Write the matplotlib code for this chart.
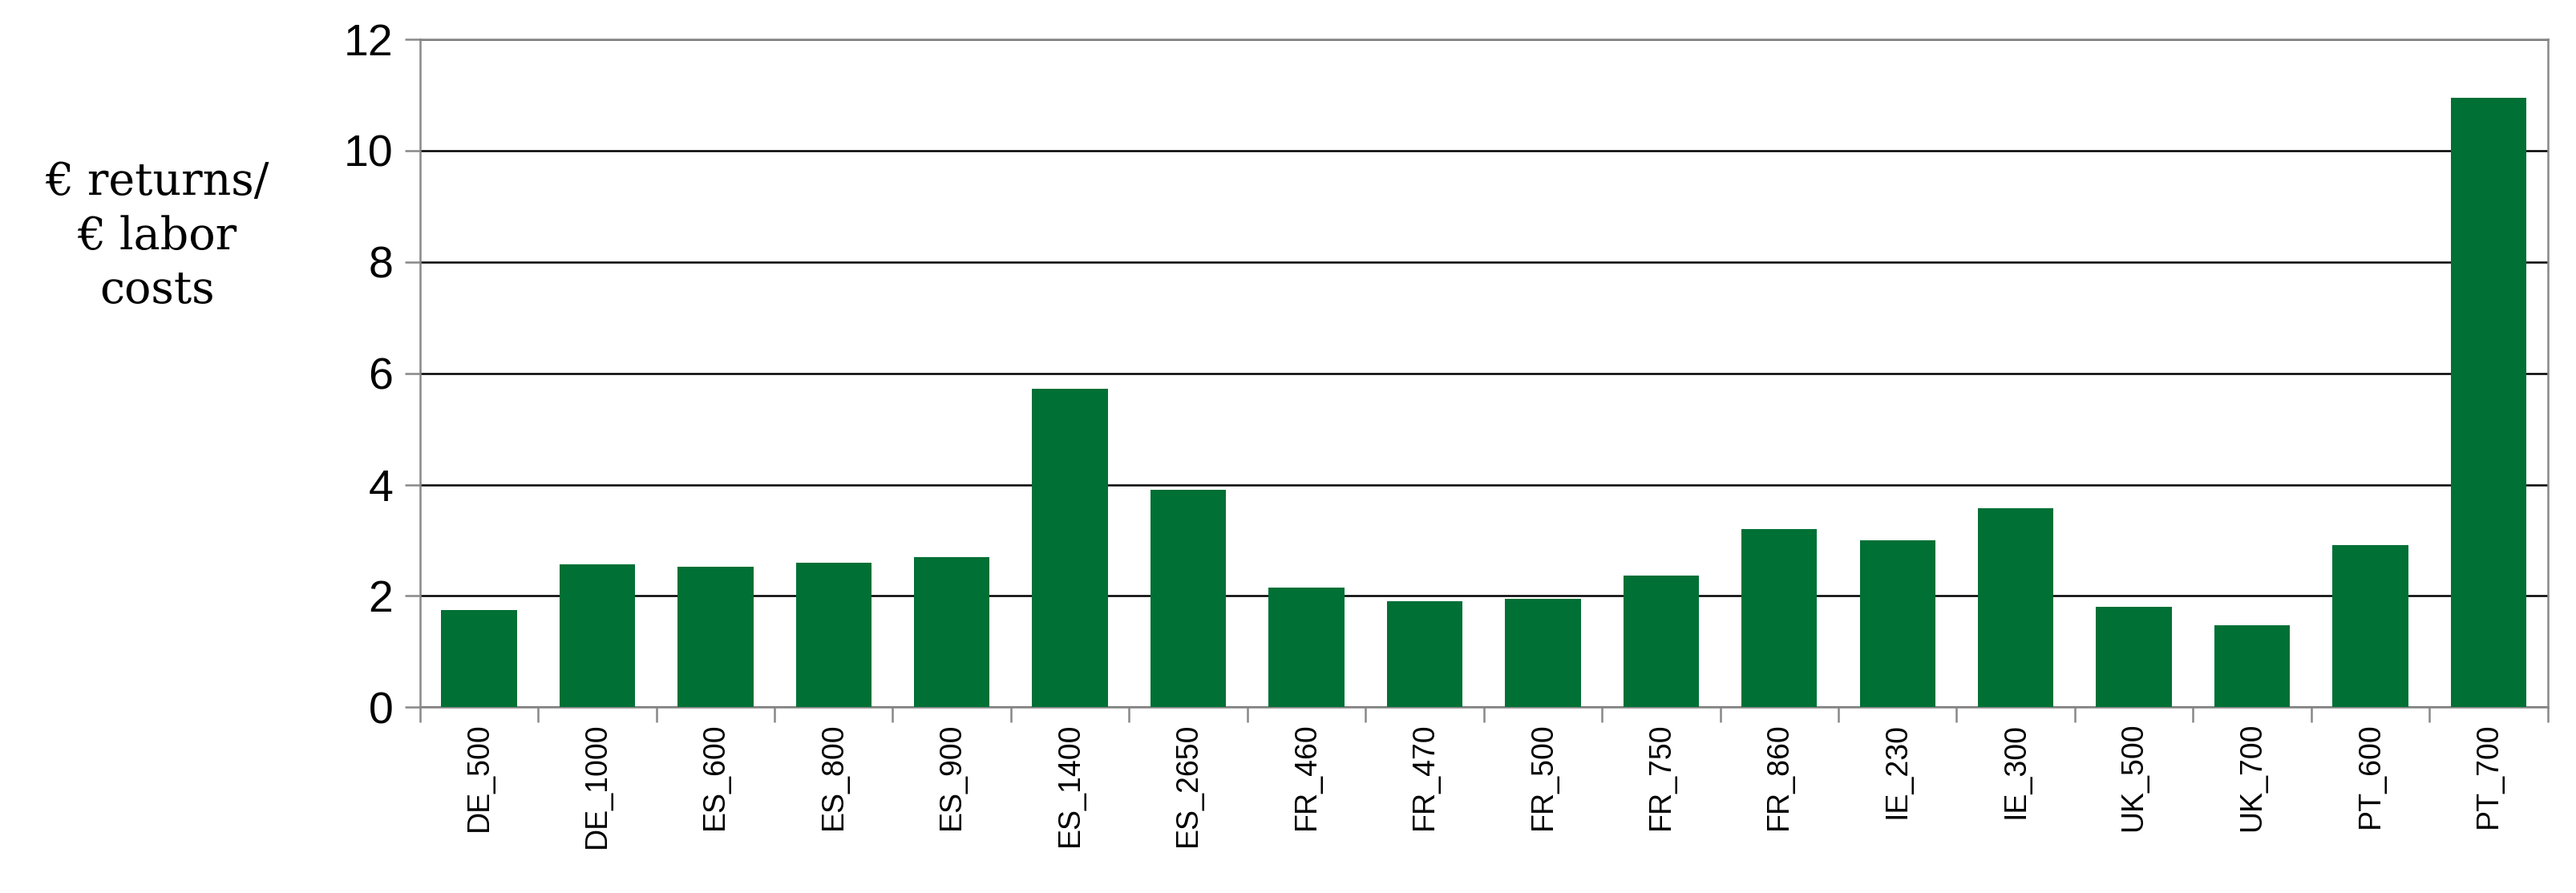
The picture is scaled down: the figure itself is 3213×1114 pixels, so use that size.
import numpy as np
import matplotlib
matplotlib.use("Agg")
import matplotlib.pyplot as plt

# -----------------------------
# DATA
# -----------------------------
sites = ["DE_500", "DE_1000", "ES_600", "ES_800", "ES_900", "ES_1400", "ES_2650",
         "FR_460", "FR_470", "FR_500", "FR_750", "FR_860", "IE_230", "IE_300",
         "UK_500", "UK_700", "PT_600", "PT_700"]
returns = [1.75, 2.57, 2.52, 2.6, 2.7, 5.72, 3.9,
           2.15, 1.9, 1.95, 2.37, 3.2, 3.0, 3.58,
           1.8, 1.48, 2.92, 10.95]
yticks = [0, 2, 4, 6, 8, 10, 12]

BAR_COLOR = "#007035"

fig = plt.figure(figsize=(32.13, 11.14), dpi=100)
ax = fig.add_axes([0.163, 0.208, 0.826, 0.748])

x = np.arange(len(sites))
ax.bar(x, returns, width=0.64, color=BAR_COLOR, zorder=3)

ax.set_xlim(-0.5, len(sites) - 0.5)
ax.set_ylim(0, 12)
ax.set_yticks(yticks)
ax.set_yticklabels([str(v) for v in yticks], fontsize=40, family="Liberation Sans")
ax.yaxis.grid(True, color="black", linewidth=1.8, zorder=0)

ax.set_xticks(x)
ax.set_xticklabels(sites, rotation=90, fontsize=27, family="Liberation Sans")
ax.tick_params(axis="x", which="major", length=0, pad=14)
ax.set_xticks(np.arange(-0.5, len(sites)), minor=True)
ax.tick_params(axis="x", which="minor", length=14, width=1.8, color="#888888")
ax.tick_params(axis="y", length=14, width=1.8, color="#888888", pad=10)

for side in ["top", "right", "left", "bottom"]:
    ax.spines[side].set_color("#888888")
    ax.spines[side].set_linewidth(1.8)

fig.text(0.061, 0.735, "€ returns/\n€ labor\ncosts", ha="center", va="center",
         fontsize=40, family="DejaVu Serif", linespacing=1.3)

fig.savefig("out.png", dpi=100)
